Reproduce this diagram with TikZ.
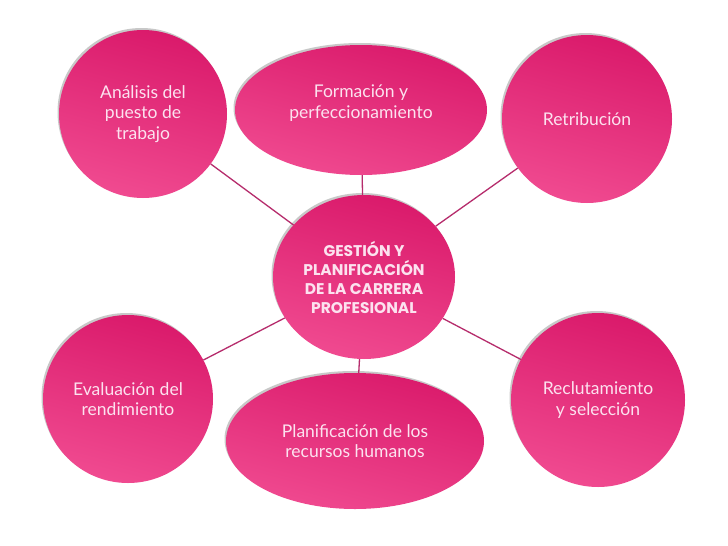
\documentclass[tikz,border=0pt]{standalone}
\usepackage{fontspec}
\setmainfont{Lato}
\newfontfamily\centralfont{Poppins}
\usetikzlibrary{shapes.geometric,shadows}

\definecolor{rosaosc}{HTML}{DA1A6B}
\definecolor{rosacla}{HTML}{F04A90}
\definecolor{enlacecol}{HTML}{B62C6C}
\definecolor{textocol}{HTML}{FCE2EF}

\begin{document}
\begin{tikzpicture}[x=1pt,y=-1pt,
  burbuja/.style 2 args={ellipse, inner sep=0pt,
    minimum width=#1, minimum height=#2,
    top color=rosaosc, bottom color=rosacla, shading angle=-15,
    drop shadow={shadow xshift=-1.5pt, shadow yshift=2pt,
      opacity=0.3, fill=black!70},
    text=textocol, align=center,
    font=\fontsize{17.5}{20.5}\selectfont},
  enlace/.style={draw=enlacecol, line width=1.3pt}]

  \fill[white] (0,0) rectangle (728,546);
  \useasboundingbox (0,0) rectangle (728,546);

  % nodo central
  \node[burbuja={182}{164}, font=\centralfont\bfseries\fontsize{15.5}{19}\selectfont]
    (centro) at (364,277) {GESTIÓN Y\\PLANIFICACIÓN\\DE LA CARRERA\\PROFESIONAL};

  % nodos exteriores
  \node[burbuja={168}{168}] (analisis) at (143,114) {Análisis del\\puesto de\\trabajo};
  \node[burbuja={252}{130}] (formacion) at (361,110) {Formación y\\perfeccionamiento\\[-4pt]};
  \node[burbuja={170}{168}] (retribucion) at (587,119) {Retribución};
  \node[burbuja={170}{168}] (evaluacion) at (128,399) {Evaluación del\\rendimiento};
  \node[burbuja={258}{136}] (planificacion) at (355,441) {Planificación de los\\recursos humanos};
  \node[burbuja={174}{174}] (reclutamiento) at (598,400) {Reclutamiento\\y selección};

  \foreach \n in {analisis,formacion,retribucion,evaluacion,planificacion,reclutamiento} {
    \draw[enlace] (centro) -- (\n);
  }
\end{tikzpicture}
\end{document}
